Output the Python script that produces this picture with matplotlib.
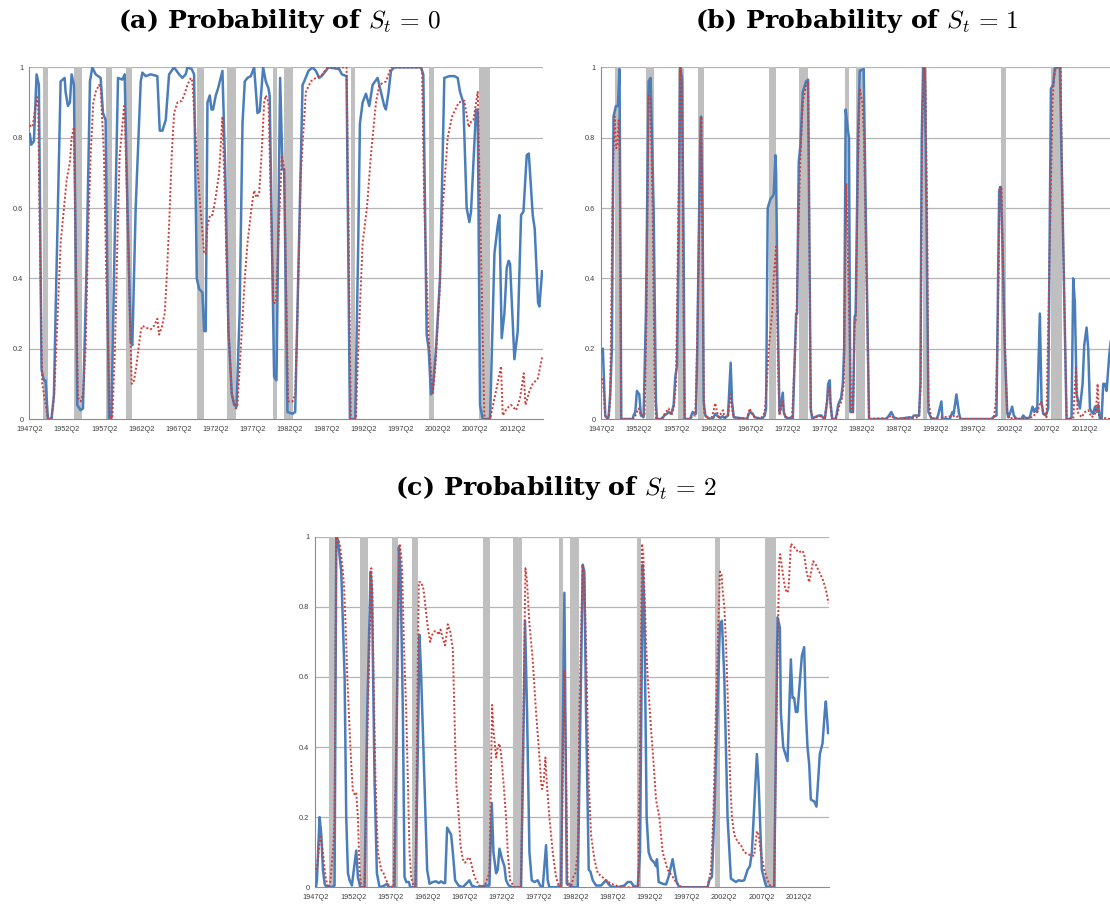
import matplotlib
matplotlib.use("Agg")
import matplotlib.pyplot as plt

# ----------------------- Data ---------------------------
# recession periods (start quarter, end quarter)
recessions = [("1949Q1", "1949Q4"), ("1953Q2", "1954Q2"), ("1957Q3", "1958Q2"),
              ("1960Q2", "1961Q1"), ("1969Q4", "1970Q4"), ("1973Q4", "1975Q1"),
              ("1980Q1", "1980Q3"), ("1981Q3", "1982Q4"), ("1990Q3", "1991Q1"),
              ("2001Q1", "2001Q4"), ("2007Q4", "2009Q2")]

tick_years = list(range(1947, 2013, 5))
tick_labels = [f"{y}Q2" for y in tick_years]
y_ticks = [0, 0.2, 0.4, 0.6, 0.8, 1]
y_labels = ["0", "0.2", "0.4", "0.6", "0.8", "1"]

# (a) S_t = 0, solid line
a_solid_t = [1947.25, 1947.43, 1947.79, 1948.15, 1948.46, 1948.82, 1949.14, 1949.36, 1949.68, 1950.17,
             1950.49, 1950.71, 1951.07, 1951.39, 1951.93, 1952.06, 1952.37, 1952.64, 1952.87, 1953.18,
             1953.63, 1954.08, 1954.40, 1954.85, 1955.34, 1955.66, 1956.11, 1956.78, 1957.10, 1957.45,
             1957.90, 1958.22, 1958.67, 1959.12, 1959.70, 1960.02, 1960.29, 1960.83, 1961.05, 1961.50,
             1962.18, 1962.40, 1962.85, 1963.52, 1964.42, 1964.74, 1965.10, 1965.55, 1966.00, 1966.67,
             1967.35, 1967.79, 1968.24, 1968.47, 1969.05, 1969.37, 1969.73, 1970.04, 1970.49, 1970.72,
             1970.94, 1971.17, 1971.48, 1971.71, 1971.93, 1972.29, 1972.60, 1973.19, 1973.55, 1974.00,
             1974.45, 1974.76, 1975.08, 1975.50, 1975.89, 1976.20, 1976.56, 1977.01, 1977.46, 1977.91,
             1978.22, 1978.67, 1979.03, 1979.39, 1979.55, 1980.15, 1980.47, 1980.96, 1981.28, 1981.50,
             1981.95, 1982.63, 1982.99, 1983.40, 1983.98, 1984.20, 1984.78, 1985.32, 1985.77, 1986.22,
             1986.54, 1987.12, 1987.48, 1988.92, 1989.28, 1989.91, 1990.36, 1991.08, 1991.48, 1991.71,
             1992.07, 1992.52, 1992.97, 1993.42, 1994.09, 1994.99, 1995.21, 1995.57, 1995.89, 1996.34,
             1999.93, 2000.25, 2000.70, 2000.97, 2001.28, 2001.51, 2001.96, 2002.50, 2003.08, 2003.76,
             2004.43, 2004.88, 2005.19, 2005.64, 2006.09, 2006.45, 2006.68, 2007.35, 2007.58, 2007.89,
             2008.25, 2009.24, 2009.83, 2010.27, 2010.50, 2010.81, 2011.17, 2011.49, 2011.76, 2011.94,
             2012.52, 2012.97, 2013.42, 2013.74, 2014.18, 2014.46, 2014.99, 2015.26, 2015.71, 2015.89,
             2016.25]
a_solid_p = [0.81, 0.78, 0.79, 0.98, 0.95, 0.14, 0.11, 0.11, 0.0, 0.0,
             0.07, 0.30, 0.65, 0.96, 0.97, 0.93, 0.89, 0.90, 0.98, 0.95,
             0.04, 0.025, 0.03, 0.40, 0.96, 1.0, 0.98, 0.97, 0.87, 0.85,
             0.0, 0.0, 0.50, 0.97, 0.965, 0.98, 0.70, 0.22, 0.21, 0.60,
             0.96, 0.985, 0.975, 0.98, 0.975, 0.82, 0.82, 0.85, 0.98, 1.0,
             0.98, 0.97, 0.98, 1.0, 0.995, 0.98, 0.40, 0.37, 0.36, 0.25,
             0.25, 0.90, 0.92, 0.88, 0.88, 0.92, 0.94, 0.99, 0.72, 0.25,
             0.07, 0.04, 0.035, 0.30, 0.84, 0.96, 0.97, 0.975, 1.0, 0.87,
             0.875, 1.0, 0.96, 0.94, 0.92, 0.12, 0.11, 0.97, 0.71, 0.71,
             0.02, 0.015, 0.02, 0.40, 0.95, 0.96, 0.99, 1.0, 0.99, 0.97,
             0.975, 0.99, 1.0, 0.995, 0.98, 0.975, 0.0, 0.0, 0.50, 0.84,
             0.90, 0.925, 0.89, 0.95, 0.97, 0.89, 0.88, 0.93, 0.99, 1.0,
             1.0, 0.98, 0.24, 0.20, 0.07, 0.08, 0.20, 0.40, 0.97, 0.975,
             0.975, 0.97, 0.93, 0.90, 0.60, 0.56, 0.59, 0.88, 0.875, 0.04,
             0.0, 0.0, 0.47, 0.55, 0.58, 0.23, 0.30, 0.43, 0.45, 0.44,
             0.17, 0.25, 0.58, 0.59, 0.75, 0.755, 0.58, 0.54, 0.33, 0.32,
             0.42]

# (a) S_t = 0, dotted line
a_dot_t = [1947.25, 1947.43, 1947.65, 1947.88, 1948.24, 1948.37, 1948.60, 1948.91, 1949.68, 1950.13,
           1950.49, 1950.80, 1951.39, 1951.84, 1952.20, 1952.37, 1952.64, 1952.87, 1953.18, 1953.72,
           1954.08, 1954.40, 1954.76, 1955.07, 1955.43, 1955.79, 1956.11, 1956.56, 1956.78, 1957.23,
           1957.54, 1958.04, 1958.35, 1958.71, 1959.03, 1959.34, 1959.57, 1959.93, 1960.06, 1960.96,
           1961.28, 1961.59, 1962.18, 1962.40, 1962.85, 1963.52, 1963.97, 1964.42, 1964.65, 1965.01,
           1965.41, 1965.68, 1966.00, 1966.36, 1966.67, 1967.12, 1967.70, 1968.02, 1968.47, 1968.92,
           1969.14, 1969.59, 1970.04, 1970.72, 1970.94, 1971.17, 1971.53, 1971.84, 1972.20, 1972.74,
           1973.19, 1973.55, 1974.00, 1974.45, 1974.99, 1975.21, 1975.66, 1976.20, 1976.56, 1977.10,
           1977.46, 1977.77, 1978.13, 1978.45, 1978.81, 1979.03, 1979.39, 1979.48, 1980.02, 1980.38,
           1981.19, 1981.50, 1982.04, 1982.63, 1982.99, 1983.30, 1983.75, 1984.43, 1985.10, 1985.77,
           1986.67, 1987.35, 1989.91, 1990.49, 1991.17, 1991.48, 1992.07, 1992.65, 1993.19, 1993.87,
           1994.32, 1995.21, 1995.57, 1995.89, 2000.07, 2000.38, 2000.97, 2001.51, 2001.87, 2002.41,
           2002.86, 2003.53, 2004.12, 2005.02, 2005.78, 2006.36, 2006.68, 2006.99, 2007.58, 2008.48,
           2009.24, 2010.05, 2010.72, 2010.95, 2011.49, 2012.07, 2012.75, 2013.29, 2013.78, 2014.01,
           2014.55, 2014.99, 2015.67, 2016.25]
a_dot_p = [0.836, 0.83, 0.835, 0.87, 0.915, 0.88, 0.50, 0.10, 0.0, 0.0,
           0.06, 0.20, 0.50, 0.60, 0.68, 0.70, 0.73, 0.80, 0.83, 0.06,
           0.05, 0.07, 0.20, 0.50, 0.75, 0.90, 0.93, 0.95, 0.94, 0.75,
           0.40, 0.0, 0.0, 0.20, 0.50, 0.75, 0.80, 0.89, 0.85, 0.10,
           0.11, 0.15, 0.25, 0.265, 0.26, 0.255, 0.265, 0.285, 0.24, 0.26,
           0.30, 0.40, 0.55, 0.75, 0.87, 0.90, 0.905, 0.92, 0.95, 0.97,
           0.96, 0.80, 0.65, 0.47, 0.47, 0.55, 0.58, 0.58, 0.62, 0.70,
           0.86, 0.60, 0.25, 0.07, 0.03, 0.04, 0.20, 0.40, 0.50, 0.60,
           0.65, 0.63, 0.64, 0.75, 0.90, 0.92, 0.90, 0.83, 0.33, 0.33,
           0.75, 0.71, 0.05, 0.05, 0.07, 0.30, 0.70, 0.93, 0.96, 0.97,
           0.98, 1.0, 1.0, 0.0, 0.0, 0.20, 0.50, 0.60, 0.75, 0.90,
           0.95, 0.96, 0.98, 1.0, 1.0, 0.60, 0.23, 0.07, 0.15, 0.35,
           0.60, 0.80, 0.86, 0.90, 0.905, 0.83, 0.845, 0.85, 0.93, 0.0,
           0.0, 0.08, 0.15, 0.01, 0.03, 0.04, 0.025, 0.06, 0.13, 0.04,
           0.08, 0.10, 0.115, 0.175]

# (b) S_t = 1, solid line
b_solid_t = [1947.25, 1947.38, 1947.70, 1948.01, 1948.15, 1948.37, 1948.60, 1948.73, 1948.82, 1949.14,
             1949.41, 1949.63, 1949.86, 1951.39, 1951.52, 1951.75, 1951.97, 1952.29, 1952.51, 1952.87,
             1953.18, 1953.54, 1953.81, 1954.22, 1954.53, 1954.67, 1955.34, 1955.66, 1956.02, 1956.24,
             1956.60, 1956.92, 1957.14, 1957.37, 1957.59, 1957.81, 1958.04, 1958.26, 1958.40, 1959.16,
             1959.30, 1959.48, 1959.75, 1959.93, 1960.11, 1960.29, 1960.51, 1960.60, 1960.83, 1960.96,
             1961.19, 1961.64, 1962.08, 1962.31, 1962.53, 1962.76, 1963.21, 1963.52, 1963.79, 1964.24,
             1964.60, 1964.78, 1965.01, 1966.81, 1967.03, 1967.26, 1967.57, 1967.84, 1968.83, 1969.19,
             1969.37, 1969.59, 1969.95, 1970.31, 1970.40, 1970.63, 1970.72, 1970.94, 1971.17, 1971.30,
             1971.62, 1971.75, 1971.98, 1972.43, 1972.79, 1972.97, 1973.42, 1973.55, 1973.77, 1974.00,
             1974.31, 1974.76, 1975.03, 1975.21, 1975.39, 1975.57, 1976.47, 1976.83, 1977.01, 1977.28,
             1977.59, 1977.73, 1977.95, 1978.04, 1978.27, 1978.72, 1978.85, 1979.08, 1979.26, 1979.48,
             1979.71, 1979.89, 1979.98, 1980.09, 1980.40, 1980.54, 1980.72, 1981.08, 1981.30, 1981.44,
             1981.75, 1981.98, 1982.52, 1982.79, 1983.24, 1985.57, 1985.93, 1986.25, 1986.56, 1987.15,
             1988.72, 1989.08, 1989.26, 1989.98, 1990.16, 1990.34, 1990.52, 1990.74, 1990.97, 1991.24,
             1991.64, 1992.32, 1992.54, 1992.99, 1993.13, 1994.12, 1994.47, 1994.65, 1995.01, 1995.37,
             1995.55, 1999.73, 1999.96, 2000.41, 2000.77, 2000.99, 2001.08, 2001.22, 2001.53, 2001.85,
             2001.98, 2002.21, 2002.52, 2002.75, 2003.11, 2003.78, 2004.01, 2004.23, 2004.45, 2004.90,
             2005.26, 2005.49, 2005.71, 2005.89, 2006.25, 2006.48, 2006.70, 2007.06, 2007.38, 2007.74,
             2008.05, 2008.28, 2008.95, 2009.31, 2009.85, 2010.30, 2010.52, 2010.75, 2010.97, 2011.20,
             2011.42, 2011.65, 2012.01, 2012.23, 2012.55, 2012.77, 2013.00, 2013.22, 2013.45, 2013.67,
             2013.90, 2014.12, 2014.34, 2014.57, 2014.79, 2015.02, 2015.24, 2015.60, 2015.80]
b_solid_p = [0.19, 0.20, 0.01, 0.0, 0.005, 0.07, 0.20, 0.60, 0.86, 0.89,
             0.89, 0.995, 0.0, 0.0, 0.01, 0.02, 0.08, 0.07, 0.01, 0.005,
             0.30, 0.96, 0.97, 0.60, 0.05, 0.0, 0.0, 0.01, 0.015, 0.02,
             0.015, 0.04, 0.12, 0.15, 0.50, 1.0, 0.97, 0.50, 0.0, 0.0,
             0.01, 0.02, 0.015, 0.015, 0.20, 0.50, 0.80, 0.86, 0.55, 0.05,
             0.01, 0.002, 0.0, 0.005, 0.015, 0.01, 0.003, 0.008, 0.002, 0.01,
             0.16, 0.05, 0.005, 0.0, 0.015, 0.02, 0.015, 0.005, 0.0, 0.01,
             0.03, 0.60, 0.625, 0.635, 0.64, 0.75, 0.70, 0.30, 0.02, 0.03,
             0.075, 0.02, 0.005, 0.002, 0.005, 0.0, 0.30, 0.30, 0.73, 0.78,
             0.93, 0.96, 0.965, 0.50, 0.03, 0.002, 0.01, 0.01, 0.005, 0.0,
             0.05, 0.10, 0.11, 0.05, 0.0, 0.0, 0.01, 0.04, 0.05, 0.06,
             0.10, 0.20, 0.50, 0.88, 0.82, 0.80, 0.02, 0.02, 0.29, 0.30,
             0.80, 0.99, 0.995, 0.60, 0.0, 0.0, 0.01, 0.02, 0.005, 0.0,
             0.005, 0.003, 0.01, 0.01, 0.10, 0.80, 1.0, 1.0, 0.60, 0.02,
             0.002, 0.0, 0.01, 0.05, 0.0, 0.0, 0.02, 0.015, 0.07, 0.015,
             0.0, 0.0, 0.005, 0.01, 0.65, 0.66, 0.60, 0.50, 0.20, 0.02,
             0.005, 0.015, 0.035, 0.01, 0.0, 0.0, 0.01, 0.005, 0.0, 0.005,
             0.035, 0.02, 0.03, 0.02, 0.30, 0.05, 0.015, 0.01, 0.03, 0.94,
             0.95, 1.0, 1.0, 0.60, 0.0, 0.0, 0.005, 0.40, 0.33, 0.07,
             0.05, 0.03, 0.10, 0.21, 0.26, 0.20, 0.03, 0.02, 0.015, 0.035,
             0.02, 0.04, 0.0, 0.0, 0.10, 0.10, 0.08, 0.18, 0.22]

# (b) S_t = 1, dotted line
b_dot_t = [1947.25, 1947.38, 1947.70, 1947.92, 1948.15, 1948.37, 1948.51, 1948.73, 1948.96, 1949.18,
           1949.36, 1949.50, 1949.63, 1949.86, 1951.39, 1951.66, 1951.97, 1952.20, 1952.51, 1953.00,
           1953.27, 1953.54, 1953.81, 1954.08, 1954.35, 1954.53, 1955.25, 1955.57, 1955.88, 1956.24,
           1956.60, 1956.92, 1957.23, 1957.50, 1957.81, 1958.04, 1958.17, 1958.40, 1959.16, 1959.48,
           1959.84, 1960.06, 1960.42, 1960.65, 1960.83, 1961.01, 1961.41, 1962.08, 1962.53, 1962.76,
           1962.98, 1963.57, 1963.79, 1964.24, 1964.60, 1964.78, 1965.01, 1966.81, 1967.17, 1967.48,
           1967.93, 1968.83, 1969.19, 1969.46, 1969.73, 1970.18, 1970.40, 1970.72, 1970.94, 1971.17,
           1971.39, 1971.62, 1971.84, 1972.43, 1972.88, 1973.46, 1973.68, 1974.00, 1974.31, 1974.76,
           1975.03, 1975.21, 1975.39, 1975.80, 1976.47, 1976.92, 1977.28, 1977.68, 1977.91, 1978.04,
           1978.27, 1978.72, 1978.94, 1979.26, 1979.53, 1979.84, 1980.18, 1980.85, 1981.08, 1981.30,
           1981.44, 1981.66, 1981.98, 1982.34, 1982.56, 1982.88, 1983.24, 1985.80, 1986.25, 1986.70,
           1989.98, 1990.20, 1990.38, 1990.61, 1990.83, 1991.06, 1991.24, 1991.64, 1995.01, 1995.37,
           2000.05, 2000.32, 2000.54, 2000.86, 2001.08, 2001.40, 2001.85, 2002.21, 2002.66, 2003.11,
           2005.26, 2005.89, 2006.39, 2006.70, 2007.15, 2007.60, 2007.96, 2008.14, 2008.41, 2009.04,
           2009.31, 2009.85, 2010.75, 2011.11, 2011.33, 2011.87, 2012.32, 2012.77, 2013.22, 2013.54,
           2013.81, 2014.03, 2014.26, 2015.80]
b_dot_p = [0.115, 0.11, 0.01, 0.0, 0.005, 0.05, 0.30, 0.70, 0.86, 0.77,
           0.78, 0.85, 0.80, 0.0, 0.0, 0.005, 0.02, 0.03, 0.01, 0.01,
           0.30, 0.92, 0.91, 0.60, 0.10, 0.0, 0.0, 0.01, 0.02, 0.03,
           0.01, 0.03, 0.10, 0.50, 1.0, 0.95, 0.50, 0.0, 0.0, 0.01,
           0.01, 0.20, 0.60, 0.86, 0.40, 0.02, 0.0, 0.005, 0.045, 0.02,
           0.005, 0.025, 0.005, 0.01, 0.07, 0.03, 0.005, 0.0, 0.03, 0.015,
           0.002, 0.005, 0.02, 0.10, 0.20, 0.30, 0.40, 0.49, 0.20, 0.01,
           0.03, 0.05, 0.01, 0.0, 0.005, 0.28, 0.50, 0.75, 0.90, 0.95,
           0.96, 0.50, 0.02, 0.0, 0.01, 0.005, 0.0, 0.07, 0.09, 0.04,
           0.0, 0.0, 0.01, 0.04, 0.05, 0.10, 0.67, 0.02, 0.02, 0.28,
           0.28, 0.60, 0.94, 0.90, 0.80, 0.40, 0.0, 0.003, 0.01, 0.0,
           0.005, 0.10, 0.80, 1.0, 0.95, 0.60, 0.05, 0.0, 0.01, 0.0,
           0.0, 0.05, 0.20, 0.66, 0.66, 0.30, 0.02, 0.0, 0.005, 0.0,
           0.005, 0.02, 0.05, 0.02, 0.005, 0.50, 0.90, 0.97, 1.0, 1.0,
           0.60, 0.0, 0.0, 0.15, 0.02, 0.005, 0.02, 0.025, 0.005, 0.01,
           0.02, 0.10, 0.005, 0.0]

# (c) S_t = 2, solid line
c_solid_t = [1947.25, 1947.38, 1947.74, 1947.97, 1948.19, 1948.42, 1948.64, 1949.31, 1949.76, 1949.99,
             1950.21, 1950.66, 1951.11, 1951.33, 1951.56, 1951.78, 1952.09, 1952.36, 1952.68, 1952.90,
             1953.22, 1953.80, 1954.16, 1954.61, 1954.79, 1955.15, 1955.46, 1955.82, 1956.49, 1956.81,
             1957.07, 1957.84, 1958.15, 1958.42, 1958.64, 1958.96, 1959.18, 1959.41, 1959.77, 1959.95,
             1960.66, 1960.98, 1961.20, 1961.43, 1962.01, 1962.23, 1962.55, 1963.00, 1963.44, 1963.80,
             1964.11, 1964.43, 1964.65, 1964.92, 1965.46, 1965.69, 1966.00, 1966.45, 1967.03, 1967.48,
             1967.93, 1968.24, 1968.83, 1970.17, 1970.62, 1970.94, 1971.16, 1971.52, 1971.74, 1971.97,
             1972.33, 1972.64, 1972.86, 1973.22, 1973.76, 1974.88, 1975.11, 1975.42, 1975.69, 1976.01,
             1976.32, 1976.68, 1977.13, 1977.44, 1977.80, 1978.25, 1978.47, 1978.70, 1979.59, 1980.27,
             1980.72, 1981.04, 1981.40, 1981.62, 1982.52, 1982.74, 1983.19, 1983.41, 1983.64, 1984.00,
             1984.22, 1984.54, 1984.98, 1985.66, 1986.33, 1986.64, 1987.00, 1987.90, 1988.80, 1989.25,
             1989.69, 1990.01, 1990.59, 1990.91, 1991.27, 1991.49, 1991.80, 1992.07, 1992.39, 1992.84,
             1993.06, 1993.19, 1993.42, 1993.96, 1994.41, 1994.76, 1995.30, 1995.53, 1995.84, 1996.20,
             2000.01, 2000.24, 2000.60, 2000.91, 2001.67, 2001.94, 2002.26, 2002.70, 2003.15, 2003.47,
             2003.83, 2004.18, 2004.63, 2004.95, 2005.40, 2005.71, 2005.98, 2006.65, 2006.88, 2007.32,
             2007.73, 2007.95, 2008.98, 2009.43, 2009.75, 2009.88, 2010.20, 2010.64, 2010.78, 2011.23,
             2011.45, 2011.68, 2011.90, 2012.12, 2012.71, 2013.02, 2013.25, 2013.47, 2013.70, 2013.92,
             2014.37, 2014.68, 2015.13, 2015.49, 2015.80, 2015.94, 2016.25]
c_solid_p = [0.0, 0.02, 0.20, 0.15, 0.05, 0.01, 0.0, 0.0, 0.005, 1.0,
             0.99, 0.90, 0.60, 0.20, 0.04, 0.02, 0.005, 0.05, 0.105, 0.03,
             0.0, 0.0, 0.50, 0.90, 0.85, 0.30, 0.04, 0.0, 0.005, 0.01,
             0.0, 0.0, 0.50, 0.97, 0.90, 0.50, 0.03, 0.015, 0.015, 0.0,
             0.0, 0.40, 0.72, 0.60, 0.20, 0.05, 0.01, 0.015, 0.017, 0.012,
             0.017, 0.012, 0.012, 0.17, 0.15, 0.10, 0.02, 0.005, 0.0, 0.01,
             0.02, 0.005, 0.0, 0.005, 0.005, 0.24, 0.10, 0.04, 0.05, 0.11,
             0.08, 0.06, 0.02, 0.005, 0.0, 0.0, 0.30, 0.76, 0.50, 0.10,
             0.02, 0.015, 0.02, 0.005, 0.0, 0.12, 0.02, 0.0, 0.0, 0.005,
             0.84, 0.01, 0.01, 0.0, 0.0, 0.30, 0.92, 0.90, 0.50, 0.05,
             0.045, 0.02, 0.005, 0.005, 0.02, 0.01, 0.002, 0.0, 0.005, 0.015,
             0.015, 0.005, 0.0, 0.10, 0.92, 0.80, 0.20, 0.10, 0.08, 0.07,
             0.06, 0.08, 0.015, 0.01, 0.008, 0.03, 0.08, 0.05, 0.015, 0.0,
             0.0, 0.02, 0.03, 0.20, 0.75, 0.76, 0.60, 0.20, 0.025, 0.02,
             0.015, 0.02, 0.018, 0.02, 0.05, 0.06, 0.10, 0.38, 0.30, 0.05,
             0.015, 0.0, 0.0, 0.77, 0.74, 0.50, 0.40, 0.37, 0.36, 0.65,
             0.54, 0.54, 0.50, 0.50, 0.66, 0.685, 0.50, 0.40, 0.35, 0.25,
             0.245, 0.23, 0.38, 0.41, 0.50, 0.53, 0.44]

# (c) S_t = 2, dotted line
c_dot_t = [1947.25, 1947.38, 1947.61, 1947.83, 1948.06, 1948.28, 1948.55, 1948.78, 1949.00, 1949.22,
           1949.40, 1949.63, 1949.76, 1949.99, 1950.30, 1950.52, 1950.88, 1951.06, 1951.24, 1951.47,
           1951.78, 1952.01, 1952.23, 1952.50, 1952.68, 1952.90, 1953.13, 1953.35, 1953.80, 1954.25,
           1954.70, 1954.83, 1955.01, 1955.28, 1955.59, 1956.04, 1956.36, 1956.72, 1957.07, 1957.70,
           1958.15, 1958.51, 1958.73, 1958.87, 1959.09, 1959.41, 1959.63, 1959.86, 1960.08, 1960.39,
           1960.66, 1960.89, 1961.11, 1961.43, 1961.74, 1962.01, 1962.32, 1962.64, 1962.91, 1963.22,
           1963.53, 1963.80, 1964.03, 1964.34, 1964.65, 1965.01, 1965.33, 1965.69, 1965.91, 1966.14,
           1966.50, 1966.72, 1967.03, 1967.35, 1967.62, 1967.93, 1968.16, 1968.47, 1968.83, 1969.28,
           1969.73, 1970.08, 1970.40, 1970.62, 1970.98, 1971.16, 1971.52, 1971.74, 1971.97, 1972.19,
           1972.51, 1972.86, 1973.09, 1973.40, 1973.99, 1974.88, 1975.20, 1975.47, 1975.69, 1976.01,
           1976.45, 1976.90, 1977.26, 1977.58, 1977.71, 1977.93, 1978.16, 1978.34, 1978.70, 1979.15,
           1979.59, 1979.95, 1980.27, 1980.72, 1981.17, 1981.62, 1981.93, 1982.20, 1982.52, 1982.74,
           1983.19, 1983.41, 1983.73, 1984.00, 1984.31, 1984.76, 1985.21, 1985.79, 1986.33, 1987.00,
           1987.68, 1988.35, 1990.68, 1990.95, 1991.18, 1991.35, 1991.49, 1991.71, 1991.94, 1992.39,
           1992.75, 1993.06, 1993.51, 1993.96, 1994.63, 1995.30, 1995.75, 1996.11, 1996.65, 2000.01,
           2000.46, 2000.78, 2001.13, 2001.67, 2001.90, 2002.03, 2002.26, 2002.48, 2002.79, 2003.06,
           2003.29, 2003.60, 2004.05, 2004.50, 2004.95, 2005.40, 2005.98, 2006.29, 2006.65, 2006.88,
           2007.19, 2007.64, 2008.09, 2008.54, 2008.98, 2009.30, 2009.66, 2009.79, 2010.11, 2010.47,
           2010.78, 2010.91, 2011.23, 2011.68, 2012.26, 2012.80, 2013.02, 2013.34, 2013.70, 2014.23,
           2014.59, 2015.04, 2015.49, 2015.94, 2016.30]
c_dot_p = [0.05, 0.055, 0.10, 0.15, 0.12, 0.08, 0.03, 0.005, 0.0, 0.02,
           0.07, 0.13, 0.20, 1.0, 0.99, 0.97, 0.90, 0.85, 0.75, 0.60,
           0.45, 0.35, 0.27, 0.265, 0.27, 0.20, 0.05, 0.0, 0.0, 0.50,
           0.91, 0.85, 0.60, 0.30, 0.10, 0.05, 0.04, 0.02, 0.005, 0.0,
           0.50, 0.98, 0.95, 0.90, 0.70, 0.50, 0.30, 0.10, 0.03, 0.005,
           0.0, 0.50, 0.87, 0.87, 0.85, 0.80, 0.74, 0.70, 0.72, 0.73,
           0.73, 0.72, 0.735, 0.71, 0.69, 0.75, 0.73, 0.68, 0.50, 0.30,
           0.20, 0.12, 0.08, 0.07, 0.08, 0.085, 0.07, 0.04, 0.02, 0.005,
           0.0, 0.01, 0.03, 0.04, 0.52, 0.45, 0.37, 0.40, 0.41, 0.38,
           0.30, 0.20, 0.10, 0.02, 0.0, 0.0, 0.50, 0.91, 0.87, 0.75,
           0.65, 0.50, 0.40, 0.30, 0.28, 0.30, 0.37, 0.30, 0.20, 0.10,
           0.03, 0.005, 0.0, 0.62, 0.0, 0.0, 0.03, 0.04, 0.10, 0.50,
           0.92, 0.88, 0.60, 0.30, 0.15, 0.08, 0.04, 0.03, 0.02, 0.01,
           0.005, 0.0, 0.0, 0.50, 0.98, 0.95, 0.85, 0.70, 0.60, 0.45,
           0.35, 0.25, 0.20, 0.10, 0.05, 0.03, 0.015, 0.005, 0.0, 0.0,
           0.05, 0.20, 0.50, 0.90, 0.89, 0.85, 0.80, 0.70, 0.50, 0.30,
           0.20, 0.15, 0.13, 0.12, 0.10, 0.095, 0.09, 0.09, 0.16, 0.15,
           0.10, 0.05, 0.02, 0.0, 0.0, 0.50, 0.93, 0.95, 0.90, 0.85,
           0.84, 0.85, 0.98, 0.97, 0.955, 0.96, 0.95, 0.90, 0.87, 0.93,
           0.92, 0.90, 0.88, 0.85, 0.81]

panels = [
    ("a", "0", a_solid_t, a_solid_p, a_dot_t, a_dot_p),
    ("b", "1", b_solid_t, b_solid_p, b_dot_t, b_dot_p),
    ("c", "2", c_solid_t, c_solid_p, c_dot_t, c_dot_p),
]


def qtr(s):
    return int(s[:4]) + (int(s[5]) - 1) / 4


# ----------------------- Plotting ---------------------------
plt.rcParams["mathtext.fontset"] = "cm"

fig = plt.figure(figsize=(11.1, 9.05), dpi=100)

# axes boxes in figure fractions (left, bottom, width, height)
boxes = {
    "a": [0.0261, 0.5370, 0.4631, 0.3886],
    "b": [0.5414, 0.5370, 0.4631, 0.3886],
    "c": [0.2838, 0.0196, 0.4631, 0.3874],
}
title_pos = {"a": (0.252, 1 - 28 / 905), "b": (0.772, 1 - 28 / 905), "c": (0.501, 1 - 495 / 905)}

blue = "#4a7ebb"
red = "#d03c38"
grid_col = "#b4b4b4"

for key, state, st, sp, dt, dp in panels:
    ax = fig.add_axes(boxes[key])
    ax.set_xlim(1947.125, 2016.375)
    ax.set_ylim(0, 1)

    for start, end in recessions:
        ax.axvspan(qtr(start), qtr(end), color="#bfbfbf", lw=0, zorder=1)

    for y in y_ticks[1:]:
        ax.axhline(y, color=grid_col, lw=0.9, zorder=0.5)

    ax.plot(st, sp, color=blue, lw=1.8, zorder=3, solid_joinstyle="round")
    ax.plot(dt, dp, color=red, lw=1.4, linestyle=(0, (1, 1.1)), zorder=4)

    for side in ["top", "right"]:
        ax.spines[side].set_visible(False)
    for side in ["left", "bottom"]:
        ax.spines[side].set_color("#8c8c8c")
        ax.spines[side].set_linewidth(0.8)

    ax.set_xticks([y + 0.25 for y in tick_years])
    ax.set_xticklabels(tick_labels)
    ax.set_yticks(y_ticks)
    ax.set_yticklabels(y_labels)
    ax.tick_params(length=0, labelsize=5.3, labelcolor="#404040", pad=4)
    ax.tick_params(axis="x", pad=5)
    for lab in ax.get_xticklabels() + ax.get_yticklabels():
        lab.set_family("Liberation Sans")

    tx, ty = title_pos[key]
    fig.text(tx, ty, "(" + key + r") Probability of $S_t\,=\,$" + "$" + state + "$",
             ha="center", va="baseline", fontsize=18.2,
             family=["DejaVu Serif"], weight="bold")

fig.savefig("out.png", dpi=100)
